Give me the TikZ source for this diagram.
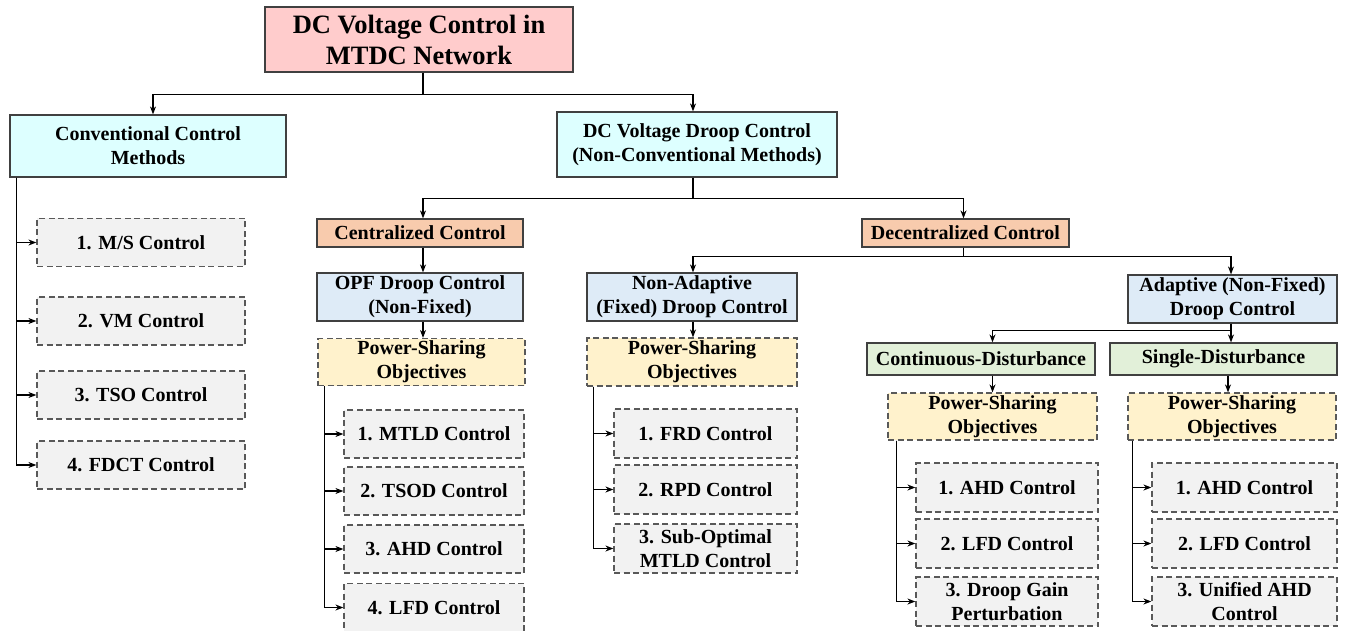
\documentclass[tikz,border=0pt]{standalone}
\usepackage{fontspec}
\setmainfont{Liberation Serif}
\usetikzlibrary{arrows.meta}
\definecolor{rootfill}{HTML}{FFCCCC}
\definecolor{mainfill}{HTML}{DDFFFF}
\definecolor{ctrlfill}{HTML}{F8CBAD}
\definecolor{typefill}{HTML}{DEEBF7}
\definecolor{distfill}{HTML}{E2F0D9}
\definecolor{objfill}{HTML}{FFF2CC}
\definecolor{itemfill}{HTML}{F2F2F2}
\tikzset{
  box/.style={draw=black!75,line width=1.2pt,align=center,inner sep=1pt,
    font=\bfseries\fontsize{20}{24}\selectfont},
  rootbox/.style={box,fill=rootfill,minimum width=308pt,minimum height=65pt,
    font=\bfseries\fontsize{26.5}{31}\selectfont},
  mainbox/.style={box,fill=mainfill},
  ctrlbox/.style={box,fill=ctrlfill,minimum width=206pt,minimum height=28pt},
  typebox/.style={box,fill=typefill,minimum height=48pt},
  distbox/.style={box,fill=distfill,minimum width=228pt,minimum height=32pt},
  objbox/.style={box,draw=black!65,dash pattern=on 6pt off 3.5pt,fill=objfill,minimum height=47pt},
  itembox/.style={box,draw=black!65,dash pattern=on 6pt off 3.5pt,fill=itemfill,minimum height=48pt},
  arr/.style={line width=1.3pt,-{Stealth[length=8pt,width=6pt]}}
}
\begin{document}
\begin{tikzpicture}[x=1pt,y=-1pt]
\useasboundingbox (0,0) rectangle (1347,631);
%
\node[rootbox] (root) at (419,39.5) {DC Voltage Control in\\MTDC Network};
\node[mainbox,minimum width=276pt,minimum height=62pt] (conv) at (148,146) {Conventional Control\\Methods};
\node[mainbox,minimum width=280pt,minimum height=65pt] (droop) at (697,144.5) {DC Voltage Droop Control\\(Non-Conventional Methods)};
%
\node[itembox,minimum width=208pt] (ms) at (141,242.5) {1. M/S Control};
\node[itembox,minimum width=208pt] (vm) at (141,321) {2. VM Control};
\node[itembox,minimum width=208pt] (tso) at (141,395) {3. TSO Control};
\node[itembox,minimum width=208pt] (fdct) at (141,465) {4. FDCT Control};
%
\node[ctrlbox] (cent) at (420,233) {Centralized Control};
\node[ctrlbox,minimum width=207pt] (decent) at (965.5,233) {Decentralized Control};
%
\node[typebox,minimum width=206pt] (opf) at (420,297) {OPF Droop Control\\(Non-Fixed)};
\node[objbox,minimum width=207pt] (obja) at (421.5,362) {Power-Sharing\\Objectives};
\node[itembox,minimum width=180pt] (mtld) at (434,434) {1. MTLD Control};
\node[itembox,minimum width=180pt] (tsod) at (434,491) {2. TSOD Control};
\node[itembox,minimum width=180pt] (ahda) at (434,549) {3. AHD Control};
\node[itembox,minimum width=180pt] (lfda) at (434,607.5) {4. LFD Control};
%
\node[typebox,minimum width=210pt] (nonad) at (692,297) {Non-Adaptive\\(Fixed) Droop Control};
\node[objbox,minimum width=210pt,minimum height=48pt] (objb) at (692,362) {Power-Sharing\\Objectives};
\node[itembox,minimum width=183pt,minimum height=49pt] (frd) at (705.5,433.5) {1. FRD Control};
\node[itembox,minimum width=183pt,minimum height=49pt] (rpd) at (705.5,489.5) {2. RPD Control};
\node[itembox,minimum width=183pt,minimum height=49pt] (subopt) at (705.5,548.5) {3. Sub-Optimal\\MTLD Control};
%
\node[typebox,minimum width=209pt] (adapt) at (1232.5,299) {Adaptive (Non-Fixed)\\Droop Control};
\node[distbox] (cont) at (981,359) {Continuous-Disturbance};
\node[distbox,minimum width=227pt] (single) at (1223.5,359) {Single-Disturbance};
\node[objbox,minimum width=209pt] (objc) at (992.5,416.5) {Power-Sharing\\Objectives};
\node[objbox,minimum width=208pt] (objd) at (1232,416.5) {Power-Sharing\\Objectives};
\node[itembox,minimum width=182pt,minimum height=49pt] (ahdc) at (1007,487.5) {1. AHD Control};
\node[itembox,minimum width=182pt,minimum height=49pt] (lfdc) at (1007,543.5) {2. LFD Control};
\node[itembox,minimum width=182pt,minimum height=49pt] (dgp) at (1007,601.5) {3. Droop Gain\\Perturbation};
\node[itembox,minimum width=185pt,minimum height=49pt] (ahds) at (1244.5,487.5) {1. AHD Control};
\node[itembox,minimum width=185pt,minimum height=49pt] (lfds) at (1244.5,543.5) {2. LFD Control};
\node[itembox,minimum width=185pt,minimum height=49pt] (uahd) at (1244.5,601.5) {3. Unified AHD\\Control};
%
\draw[arr] ([xshift=4pt]root.south) -- ++(0,22) -| ([xshift=5pt]conv.north);
\draw[arr] ([xshift=4pt]root.south) -- ++(0,22) -| ([xshift=-4pt]droop.north);
\foreach \n in {ms,vm,tso,fdct}
  \draw[arr] ([xshift=7pt]conv.south west) |- (\n.west);
%
\draw[arr] ([xshift=-4pt]droop.south) -- ++(0,21) -| ([xshift=3pt]cent.north);
\draw[arr] ([xshift=-4pt]droop.south) -- ++(0,21) -| ([xshift=-2pt]decent.north);
\draw[arr] ([xshift=3pt]cent.south) -- ([xshift=3pt]opf.north);
\draw[arr] ([xshift=3pt]opf.south) -- ([xshift=3pt]opf.south |- obja.north);
\foreach \n in {mtld,tsod,ahda,lfda}
  \draw[arr] ([xshift=7pt]obja.south west) |- (\n.west);
%
\draw[arr] ([xshift=-2pt]decent.south) -- ++(0,9) -| ([xshift=1pt]nonad.north);
\draw[arr] ([xshift=-2pt]decent.south) -- ++(0,9) -| ([xshift=-1.5pt]adapt.north);
\draw[arr] ([xshift=1pt]nonad.south) -- ([xshift=1pt]objb.north);
\foreach \n in {frd,rpd,subopt}
  \draw[arr] ([xshift=7pt]objb.south west) |- (\n.west);
%
\draw[arr] ([xshift=-1.5pt]adapt.south) -- ++(0,7) -| (objc.north |- cont.north);
\draw[arr] ([xshift=-1.5pt]adapt.south) -- ([xshift=-1.5pt]adapt.south |- single.north);
\draw[arr] (objc.north |- cont.south) -- (objc.north);
\draw[arr] ([xshift=-4pt]objd.north |- single.south) -- ([xshift=-4pt]objd.north);
\foreach \n in {ahdc,lfdc,dgp}
  \draw[arr] ([xshift=9pt]objc.south west) |- (\n.west);
\foreach \n in {ahds,lfds,uahd}
  \draw[arr] ([xshift=5pt]objd.south west) |- (\n.west);
\end{tikzpicture}
\end{document}
